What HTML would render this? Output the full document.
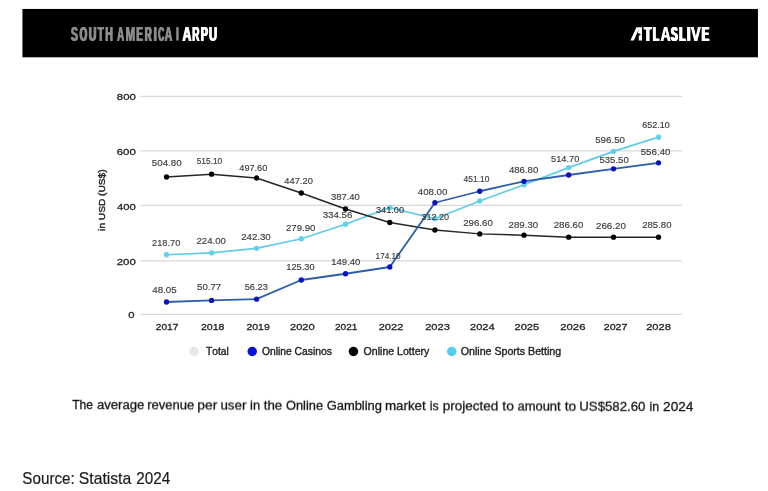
<!DOCTYPE html>
<html><head><meta charset="utf-8"><title>South America ARPU</title>
<style>
html,body{margin:0;padding:0;background:#fff;}
body{width:768px;height:491px;position:relative;overflow:hidden;font-family:"Liberation Sans",sans-serif;}
svg{position:absolute;left:0;top:0;display:block;will-change:transform;filter:blur(0.35px);}
text{font-family:"Liberation Sans",sans-serif;white-space:pre;font-kerning:none;}
</style></head><body>
<svg width="768" height="491" viewBox="0 0 768 491">
<rect x="22.45" y="8.95" width="735.5" height="48.35" fill="#000"/>
<g font-size="19.5" font-weight="bold" fill="#8b8b8b"><text transform="translate(70.40,40.5) scale(0.5307,1)">S</text><text transform="translate(70.95,40.5) scale(0.5307,1)">S</text><text transform="translate(71.50,40.5) scale(0.5307,1)">S</text><text transform="translate(79.10,40.5) scale(0.4982,1)">O</text><text transform="translate(79.65,40.5) scale(0.4982,1)">O</text><text transform="translate(80.20,40.5) scale(0.4982,1)">O</text><text transform="translate(88.28,40.5) scale(0.5290,1)">U</text><text transform="translate(88.83,40.5) scale(0.5290,1)">U</text><text transform="translate(89.38,40.5) scale(0.5290,1)">U</text><text transform="translate(97.14,40.5) scale(0.4920,1)">T</text><text transform="translate(97.69,40.5) scale(0.4920,1)">T</text><text transform="translate(98.24,40.5) scale(0.4920,1)">T</text><text transform="translate(104.69,40.5) scale(0.5408,1)">H</text><text transform="translate(105.24,40.5) scale(0.5408,1)">H</text><text transform="translate(105.79,40.5) scale(0.5408,1)">H</text><text transform="translate(116.76,40.5) scale(0.4968,1)">A</text><text transform="translate(117.16,40.5) scale(0.4968,1)">A</text><text transform="translate(117.56,40.5) scale(0.4968,1)">A</text><text transform="translate(125.13,40.5) scale(0.5867,1)">M</text><text transform="translate(125.53,40.5) scale(0.5867,1)">M</text><text transform="translate(125.93,40.5) scale(0.5867,1)">M</text><text transform="translate(135.86,40.5) scale(0.4936,1)">E</text><text transform="translate(136.41,40.5) scale(0.4936,1)">E</text><text transform="translate(136.96,40.5) scale(0.4936,1)">E</text><text transform="translate(144.37,40.5) scale(0.4847,1)">R</text><text transform="translate(144.92,40.5) scale(0.4847,1)">R</text><text transform="translate(145.47,40.5) scale(0.4847,1)">R</text><text transform="translate(152.96,40.5) scale(0.6408,1)">I</text><text transform="translate(153.51,40.5) scale(0.6408,1)">I</text><text transform="translate(154.06,40.5) scale(0.6408,1)">I</text><text transform="translate(157.66,40.5) scale(0.4236,1)">C</text><text transform="translate(158.21,40.5) scale(0.4236,1)">C</text><text transform="translate(158.76,40.5) scale(0.4236,1)">C</text><text transform="translate(164.34,40.5) scale(0.5274,1)">A</text><text transform="translate(164.74,40.5) scale(0.5274,1)">A</text><text transform="translate(165.14,40.5) scale(0.5274,1)">A</text></g>
<rect x="176.2" y="27.1" width="2.5" height="13.4" fill="#8b8b8b"/>
<g font-size="19.5" font-weight="bold" fill="#fff"><text transform="translate(182.09,40.5) scale(0.6344,1)">A</text><text transform="translate(182.49,40.5) scale(0.6344,1)">A</text><text transform="translate(182.89,40.5) scale(0.6344,1)">A</text><text transform="translate(191.64,40.5) scale(0.5090,1)">R</text><text transform="translate(192.19,40.5) scale(0.5090,1)">R</text><text transform="translate(192.74,40.5) scale(0.5090,1)">R</text><text transform="translate(200.29,40.5) scale(0.5437,1)">P</text><text transform="translate(200.84,40.5) scale(0.5437,1)">P</text><text transform="translate(201.39,40.5) scale(0.5437,1)">P</text><text transform="translate(208.43,40.5) scale(0.5716,1)">U</text><text transform="translate(208.98,40.5) scale(0.5716,1)">U</text><text transform="translate(209.53,40.5) scale(0.5716,1)">U</text></g>
<path d="M636.4,27.2 L641.95,27.2 L641.95,40.6 L638.75,40.6 L638.75,35.9 L641.0,34.35 L637.85,33.0 L638.7,29.5 L633.85,40.6 L630.35,40.6 Z" fill="#fff"/>
<g font-size="19.7" font-weight="bold" fill="#fff"><text transform="translate(643.57,40.75) scale(0.5776,1)">T</text><text transform="translate(644.37,40.75) scale(0.5776,1)">T</text><text transform="translate(645.17,40.75) scale(0.5776,1)">T</text><text transform="translate(652.24,40.75) scale(0.5045,1)">L</text><text transform="translate(653.04,40.75) scale(0.5045,1)">L</text><text transform="translate(653.84,40.75) scale(0.5045,1)">L</text><text transform="translate(660.36,40.75) scale(0.6961,1)">A</text><text transform="translate(660.71,40.75) scale(0.6961,1)">A</text><text transform="translate(661.06,40.75) scale(0.6961,1)">A</text><text transform="translate(670.32,40.75) scale(0.4914,1)">S</text><text transform="translate(671.12,40.75) scale(0.4914,1)">S</text><text transform="translate(671.92,40.75) scale(0.4914,1)">S</text><text transform="translate(678.54,40.75) scale(0.5045,1)">L</text><text transform="translate(679.34,40.75) scale(0.5045,1)">L</text><text transform="translate(680.14,40.75) scale(0.5045,1)">L</text><text transform="translate(686.16,40.75) scale(0.6343,1)">I</text><text transform="translate(686.96,40.75) scale(0.6343,1)">I</text><text transform="translate(687.76,40.75) scale(0.6343,1)">I</text><text transform="translate(690.80,40.75) scale(0.7148,1)">V</text><text transform="translate(691.15,40.75) scale(0.7148,1)">V</text><text transform="translate(691.50,40.75) scale(0.7148,1)">V</text><text transform="translate(701.08,40.75) scale(0.5429,1)">E</text><text transform="translate(701.88,40.75) scale(0.5429,1)">E</text><text transform="translate(702.68,40.75) scale(0.5429,1)">E</text></g>

<g stroke="#d8d8d8" stroke-width="1.2"><line x1="140.3" x2="681.9" y1="96.40" y2="96.40"/><line x1="140.3" x2="681.9" y1="150.90" y2="150.90"/><line x1="140.3" x2="681.9" y1="205.35" y2="205.35"/><line x1="140.3" x2="681.9" y1="260.90" y2="260.90"/><line x1="140.3" x2="681.9" y1="314.35" y2="314.35"/></g>
<g font-size="9.9" fill="#222" stroke="#222" stroke-width="0.3"><text transform="translate(116.80,100.40) scale(1.1528,1)">800</text><text transform="translate(116.72,155.20) scale(1.1582,1)">600</text><text transform="translate(117.04,210.20) scale(1.1381,1)">400</text><text transform="translate(116.72,265.20) scale(1.1578,1)">200</text><text transform="translate(128.16,318.20) scale(1.1411,1)">0</text></g>
<g font-size="9.9" fill="#222" stroke="#222" stroke-width="0.3"><text transform="translate(155.71,330.31) scale(1.0343,1)">2017</text><text transform="translate(200.97,330.31) scale(1.0666,1)">2018</text><text transform="translate(246.45,330.31) scale(1.0567,1)">2019</text><text transform="translate(289.97,330.31) scale(1.1235,1)">2020</text><text transform="translate(334.99,330.31) scale(1.0217,1)">2021</text><text transform="translate(378.69,330.31) scale(1.1176,1)">2022</text><text transform="translate(425.16,330.31) scale(1.1261,1)">2023</text><text transform="translate(469.97,330.31) scale(1.1184,1)">2024</text><text transform="translate(514.46,330.31) scale(1.1251,1)">2025</text><text transform="translate(560.20,330.31) scale(1.1498,1)">2026</text><text transform="translate(603.69,330.31) scale(1.0819,1)">2027</text><text transform="translate(646.16,330.31) scale(1.1258,1)">2028</text></g>
<g transform="translate(105.3,0) rotate(-90)" font-size="9.7" fill="#222" stroke="#222" stroke-width="0.4"><text transform="translate(-230.88,0.00) scale(1.0487,1)">in USD (US$)</text></g>
<path d="M166.50,254.75 L211.60,252.90 L256.50,248.30 L301.30,238.75 L345.50,224.25 L389.80,207.60 L434.90,218.75 L479.75,201.00 L524.00,184.75 L568.70,167.60 L613.50,151.40 L658.50,137.15" fill="none" stroke="#62cbe8" stroke-width="1.75" stroke-linejoin="round"/>
<circle cx="166.50" cy="254.75" r="2.65" fill="#5fd0ee"/><circle cx="211.60" cy="252.90" r="2.65" fill="#5fd0ee"/><circle cx="256.50" cy="248.30" r="2.65" fill="#5fd0ee"/><circle cx="301.30" cy="238.75" r="2.65" fill="#5fd0ee"/><circle cx="345.50" cy="224.25" r="2.65" fill="#5fd0ee"/><circle cx="389.80" cy="207.60" r="2.65" fill="#5fd0ee"/><circle cx="434.90" cy="218.75" r="2.65" fill="#5fd0ee"/><circle cx="479.75" cy="201.00" r="2.65" fill="#5fd0ee"/><circle cx="524.00" cy="184.75" r="2.65" fill="#5fd0ee"/><circle cx="568.70" cy="167.60" r="2.65" fill="#5fd0ee"/><circle cx="613.50" cy="151.40" r="2.65" fill="#5fd0ee"/><circle cx="658.50" cy="137.15" r="2.65" fill="#5fd0ee"/>
<path d="M166.50,177.00 L211.60,174.20 L256.50,178.00 L301.30,193.00 L345.50,209.00 L389.80,222.50 L434.90,230.00 L479.75,233.90 L524.00,235.20 L568.70,237.20 L613.50,237.20 L658.50,237.20" fill="none" stroke="#262626" stroke-width="1.45" stroke-linejoin="round"/>
<circle cx="166.50" cy="177.00" r="2.65" fill="#000"/><circle cx="211.60" cy="174.20" r="2.65" fill="#000"/><circle cx="256.50" cy="178.00" r="2.65" fill="#000"/><circle cx="301.30" cy="193.00" r="2.65" fill="#000"/><circle cx="345.50" cy="209.00" r="2.65" fill="#000"/><circle cx="389.80" cy="222.50" r="2.65" fill="#000"/><circle cx="434.90" cy="230.00" r="2.65" fill="#000"/><circle cx="479.75" cy="233.90" r="2.65" fill="#000"/><circle cx="524.00" cy="235.20" r="2.65" fill="#000"/><circle cx="568.70" cy="237.20" r="2.65" fill="#000"/><circle cx="613.50" cy="237.20" r="2.65" fill="#000"/><circle cx="658.50" cy="237.20" r="2.65" fill="#000"/>
<path d="M166.50,302.00 L211.60,300.40 L256.50,299.20 L301.30,280.00 L345.50,273.75 L389.80,267.00 L434.90,202.75 L479.75,191.25 L524.00,181.30 L568.70,175.00 L613.50,168.80 L658.50,162.85" fill="none" stroke="#2c5fa9" stroke-width="1.8" stroke-linejoin="round"/>
<circle cx="166.50" cy="302.00" r="2.65" fill="#0a12c4"/><circle cx="211.60" cy="300.40" r="2.65" fill="#0a12c4"/><circle cx="256.50" cy="299.20" r="2.65" fill="#0a12c4"/><circle cx="301.30" cy="280.00" r="2.65" fill="#0a12c4"/><circle cx="345.50" cy="273.75" r="2.65" fill="#0a12c4"/><circle cx="389.80" cy="267.00" r="2.65" fill="#0a12c4"/><circle cx="434.90" cy="202.75" r="2.65" fill="#0a12c4"/><circle cx="479.75" cy="191.25" r="2.65" fill="#0a12c4"/><circle cx="524.00" cy="181.30" r="2.65" fill="#0a12c4"/><circle cx="568.70" cy="175.00" r="2.65" fill="#0a12c4"/><circle cx="613.50" cy="168.80" r="2.65" fill="#0a12c4"/><circle cx="658.50" cy="162.85" r="2.65" fill="#0a12c4"/>
<g font-size="9.6" fill="#3a3a3a" stroke="#3a3a3a" stroke-width="0.15"><text transform="translate(151.73,166.40) scale(1.0226,1)">504.80</text><text transform="translate(196.66,164.15) scale(0.8740,1)">515.10</text><text transform="translate(239.29,170.90) scale(0.9560,1)">497.60</text><text transform="translate(284.29,184.15) scale(0.9733,1)">447.20</text><text transform="translate(330.91,199.90) scale(0.9870,1)">387.40</text><text transform="translate(375.90,212.90) scale(0.9608,1)">341.00</text><text transform="translate(421.41,220.40) scale(0.9433,1)">312.20</text><text transform="translate(463.24,225.90) scale(1.0086,1)">296.60</text><text transform="translate(508.61,227.90) scale(1.0104,1)">289.30</text><text transform="translate(553.71,227.90) scale(1.0104,1)">286.60</text><text transform="translate(595.96,229.00) scale(1.0209,1)">266.20</text><text transform="translate(642.17,228.40) scale(0.9998,1)">285.80</text><text transform="translate(152.03,245.65) scale(0.9648,1)">218.70</text><text transform="translate(196.52,244.15) scale(0.9998,1)">224.00</text><text transform="translate(241.14,240.40) scale(1.0086,1)">242.30</text><text transform="translate(286.02,230.90) scale(0.9998,1)">279.90</text><text transform="translate(322.63,218.15) scale(1.0149,1)">334.56</text><text transform="translate(152.30,293.40) scale(1.0150,1)">48.05</text><text transform="translate(197.09,290.40) scale(1.0040,1)">50.77</text><text transform="translate(244.63,289.65) scale(0.9691,1)">56.23</text><text transform="translate(286.27,270.40) scale(0.9644,1)">125.30</text><text transform="translate(331.28,264.90) scale(0.9909,1)">149.40</text><text transform="translate(375.57,258.90) scale(0.8564,1)">174.10</text><text transform="translate(417.78,194.65) scale(1.0081,1)">408.00</text><text transform="translate(463.55,182.40) scale(0.8864,1)">451.10</text><text transform="translate(508.88,173.40) scale(1.0011,1)">486.80</text><text transform="translate(550.98,162.00) scale(0.9684,1)">514.70</text><text transform="translate(599.47,162.80) scale(0.9964,1)">535.50</text><text transform="translate(640.66,154.60) scale(1.0174,1)">556.40</text><text transform="translate(595.16,142.60) scale(1.0174,1)">596.50</text><text transform="translate(642.29,128.30) scale(0.9368,1)">652.10</text></g>
<g>
<circle cx="194" cy="351.5" r="4.75" fill="#e7e7e7"/>
<circle cx="252.25" cy="351.5" r="4.75" fill="#0a12d6"/>
<circle cx="353.45" cy="351.5" r="4.75" fill="#000"/>
<circle cx="451.7" cy="351.5" r="4.75" fill="#54ccef"/>
</g>
<g font-size="10.0" fill="#222" stroke="#222" stroke-width="0.35"><text transform="translate(206.02,355.00) scale(1.0193,1)">Total</text><text transform="translate(262.01,355.00) scale(1.0302,1)">Online Casinos</text><text transform="translate(363.60,355.00) scale(1.0573,1)">Online Lottery</text><text transform="translate(460.75,355.00) scale(1.0639,1)">Online Sports Betting</text></g>
<g transform="rotate(0.19 72.5 408.6)" font-size="13.3" fill="#161616" stroke="#161616" stroke-width="0.3"><text transform="translate(72.23,408.60) scale(0.9079,1)">The</text><text transform="translate(96.94,408.60) scale(0.9860,1)">average</text><text transform="translate(147.13,408.60) scale(0.9820,1)">revenue</text><text transform="translate(197.36,408.60) scale(1.0389,1)">per</text><text transform="translate(220.38,408.60) scale(1.0065,1)">user</text><text transform="translate(250.04,408.60) scale(0.9653,1)">in</text><text transform="translate(263.70,408.60) scale(1.0002,1)">the</text><text transform="translate(285.99,408.60) scale(0.9644,1)">Online</text><text transform="translate(326.65,408.60) scale(0.9739,1)">Gambling</text><text transform="translate(385.02,408.60) scale(1.0009,1)">market</text><text transform="translate(429.78,408.60) scale(0.9229,1)">is</text><text transform="translate(442.63,408.60) scale(1.0170,1)">projected</text><text transform="translate(502.29,408.60) scale(1.0453,1)">to</text><text transform="translate(517.45,408.60) scale(0.9748,1)">amount</text><text transform="translate(564.69,408.60) scale(1.0356,1)">to</text><text transform="translate(579.28,408.60) scale(0.9953,1)">US$582.60</text><text transform="translate(649.57,408.60) scale(0.9304,1)">in</text><text transform="translate(663.12,408.60) scale(1.0235,1)">2024</text></g>
<g font-size="15.7" fill="#1c1c1c" stroke="#1c1c1c" stroke-width="0.2"><text transform="translate(22.31,484.10) scale(0.9700,1)">Source:</text><text transform="translate(78.79,484.10) scale(1.0020,1)">Statista</text><text transform="translate(136.23,484.10) scale(0.9740,1)">2024</text></g>
</svg>
</body></html>
